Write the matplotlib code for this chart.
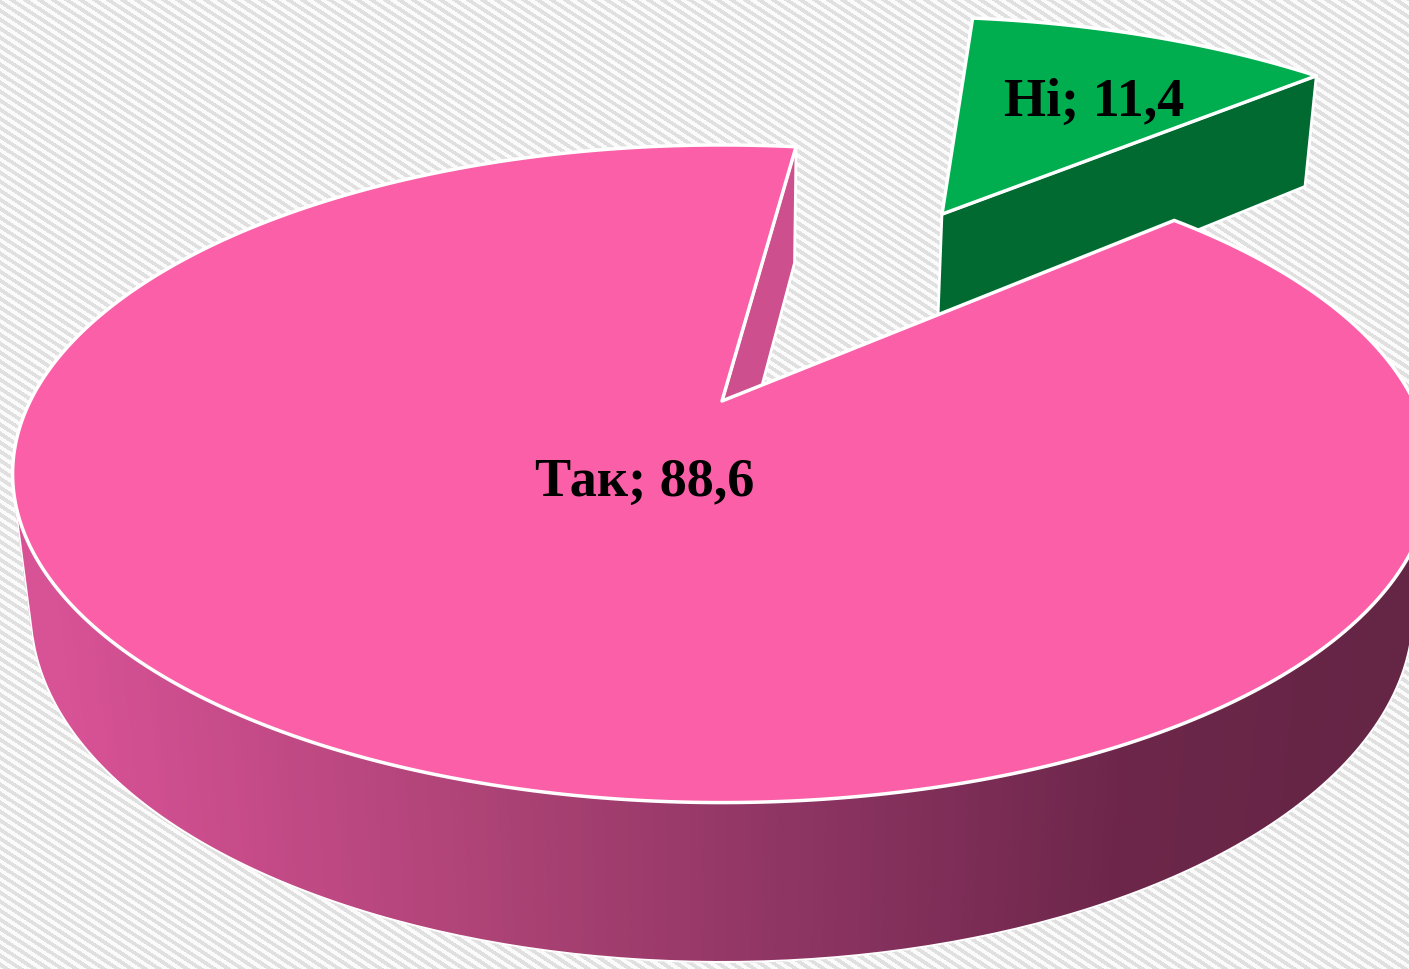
import numpy as np
import matplotlib.pyplot as plt
from matplotlib.patches import Polygon
from matplotlib.colors import to_rgb

labels = ["Так", "Ні"]
values = [88.6, 11.4]
explode = [0.0, 0.78]

top_colors = ["#FA5FA8", "#00AE4F"]
cut_colors = ["#CE4F8D", "#006A31"]
start_angle = 82.5
thickness = 0.224

# perspective camera, tuned by eye to the reference
W, H = 1409, 970
cx, cy = 722, 402
f = 2788.0
d = 4.03
elev = np.arcsin(0.452)
ce, se = np.cos(elev), np.sin(elev)
cam = np.array([0.0, -d * ce, d * se])


def proj(X, Y, Z):
    X = np.asarray(X, float)
    Y = np.asarray(Y, float)
    Z = np.asarray(Z, float)
    zc = Y * ce + d - Z * se
    u = f * X / zc
    v = f * (Y * se + Z * ce) / zc
    return cx + u, cy - v


def facing(point, normal):
    return np.dot(np.asarray(normal), cam - np.asarray(point)) > 0


# gradient of outer wall, by screen x
wall_x = [60, 530, 830, 1130, 1380]
wall_cols = np.array([to_rgb(c) for c in ["#D85296", "#A94173", "#8A3361", "#6C2649", "#652545"]])


def wall_color(x):
    return [np.interp(x, wall_x, wall_cols[:, i]) for i in range(3)]


fig = plt.figure(figsize=(W / 100, H / 100), dpi=100)
ax = fig.add_axes([0, 0, 1, 1])
ax.set_xlim(0, W)
ax.set_ylim(H, 0)
ax.axis("off")

# striped background
yy, xx = np.mgrid[0:H, 0:W]
stripes = ((yy - 0.65 * xx) % 9.0) < 4.5
bg = np.where(stripes[..., None], np.array([0.88, 0.88, 0.88]), np.array([0.985, 0.985, 0.985]))
ax.imshow(bg, extent=(0, W, H, 0), zorder=0, interpolation="nearest")

total = sum(values)
angles = []
a = start_angle
for v in values:
    span = v / total * 360.0
    angles.append((a, a + span))
    a += span

label_r = [0.25, 0.62]
label_shift = [(6, -6), (11, -3)]

# draw exploded slice first (it is behind)
order = sorted(range(len(values)), key=lambda i: -explode[i])
z = 1
for i in order:
    t1, t2 = angles[i]
    mid = np.radians((t1 + t2) / 2)
    ox, oy = explode[i] * np.cos(mid), explode[i] * np.sin(mid)
    th = np.radians(np.linspace(t1, t2, 400))
    rx, ry = ox + np.cos(th), oy + np.sin(th)

    # radial cut faces
    for t, sign in [(t1, 1), (t2, -1)]:
        tr = np.radians(t)
        normal = (sign * np.sin(tr), -sign * np.cos(tr), 0)
        if not facing((ox, oy, 0), normal):
            continue
        ex, ey = ox + np.cos(tr), oy + np.sin(tr)
        px, py = proj([ox, ex, ex, ox], [oy, ey, ey, oy], [0, 0, -thickness, -thickness])
        ax.add_patch(Polygon(np.c_[px, py], closed=True, fc=cut_colors[i], ec="white",
                             lw=2, joinstyle="round", zorder=z))
        z += 1

    # outer wall
    vis = np.array([facing((rx[k], ry[k], 0), (np.cos(th[k]), np.sin(th[k]), 0)) for k in range(len(th))])
    if vis.any():
        idx = np.where(vis)[0]
        for k in idx[:-1]:
            if not vis[k + 1]:
                continue
            qx, qy = proj([rx[k], rx[k + 1], rx[k + 1], rx[k]], [ry[k], ry[k + 1], ry[k + 1], ry[k]],
                          [0, 0, -thickness, -thickness])
            col = wall_color(qx.mean()) if i == 0 else cut_colors[i]
            ax.add_patch(Polygon(np.c_[qx, qy], closed=True, fc=col, ec=col, lw=0.8, zorder=z))
        z += 1
        bx, by = proj(rx[idx], ry[idx], np.full(len(idx), -thickness))
        ax.plot(bx, by, color="white", lw=1.5, zorder=z)
        sx, sy = proj([rx[idx[0]]] * 2, [ry[idx[0]]] * 2, [0, -thickness])
        ax.plot(sx, sy, color="white", lw=1.2, zorder=z)
        sx, sy = proj([rx[idx[-1]]] * 2, [ry[idx[-1]]] * 2, [0, -thickness])
        ax.plot(sx, sy, color="white", lw=1.2, zorder=z)
        z += 1

    # top face
    tx, ty = proj(np.r_[ox, rx], np.r_[oy, ry], np.zeros(len(rx) + 1))
    ax.add_patch(Polygon(np.c_[tx, ty], closed=True, fc=top_colors[i], ec="white",
                         lw=2.5, joinstyle="round", zorder=z))
    z += 1

    # label
    lr = label_r[i]
    lx, ly = proj(ox + lr * np.cos(mid), oy + lr * np.sin(mid), 0)
    txt = f"{labels[i]}; {values[i]:.1f}".replace(".", ",")
    ax.annotate(txt, (lx, ly), xytext=label_shift[i], textcoords="offset points",
                ha="center", va="center", fontsize=39, fontweight="bold",
                family=["Liberation Serif", "DejaVu Serif"], color="black", zorder=100)

fig.savefig("out.png", dpi=100)
